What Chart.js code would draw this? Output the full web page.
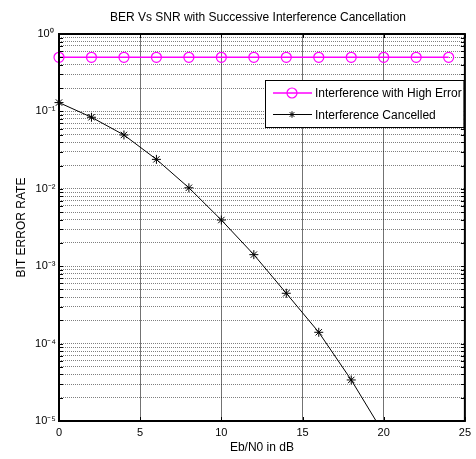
<!DOCTYPE html>
<html>
<head>
<meta charset="utf-8">
<title>BER Vs SNR</title>
<script src="https://cdn.jsdelivr.net/npm/chart.js@4.4.1/dist/chart.umd.min.js"></script>
<style>
    html, body { margin: 0; padding: 0; background: #fff; }
    #wrap { width: 476px; height: 459px; }
</style>
</head>
<body>
<div id="wrap"><canvas id="berChart" width="476" height="459"></canvas></div>
<script>
// ====== Data ======
const snrHigh = [0, 2, 4, 6, 8, 10, 12, 14, 16, 18, 20, 22, 24];
const berHigh = [0.5, 0.5, 0.5, 0.5, 0.5, 0.5, 0.5, 0.5, 0.5, 0.5, 0.5, 0.5, 0.5];

const snrSic = [0, 2, 4, 6, 8, 10, 12, 14, 16, 18, 20];
const berSic = [0.13, 0.084, 0.0496, 0.024, 0.0103, 0.00395, 0.00141, 0.000447, 0.00014, 0.0000339, 0.0000069];

const seriesNames = ['Interference with High Error', 'Interference Cancelled'];

const yDecades = [1e-5, 1e-4, 1e-3, 1e-2, 1e-1, 1];
const yDecadeLabels = ['10\u207B\u2075', '10\u207B\u2074', '10\u207B\u00B3', '10\u207B\u00B2', '10\u207B\u00B9', '10\u2070'];
const yMinorSteps = [2, 3, 4, 5, 6, 7, 8, 9];

const FONT = 'Liberation Sans, Arial, Helvetica, sans-serif';

function toPoints(xs, ys) {
    return xs.map((x, i) => ({ x: x, y: ys[i] }));
}

// log grid: every 1..9 x 10^k between the decades
function buildLogTicks() {
    const ticks = [];
    for (let i = 0; i < yDecades.length; i++) {
        ticks.push({ value: yDecades[i] });
        if (i < yDecades.length - 1) {
            yMinorSteps.forEach(m => ticks.push({ value: m * yDecades[i] }));
        }
    }
    return ticks;
}

function decadeLabel(value) {
    for (let i = 0; i < yDecades.length; i++) {
        if (Math.abs(Math.log10(value) - Math.log10(yDecades[i])) < 1e-6) return yDecadeLabels[i];
    }
    return '';
}

// ====== Plugins ======
// axes box with inward ticks, matlab style
const boxPlugin = {
    id: 'boxPlugin',
    afterDatasetsDraw(chart) {
        const { ctx, chartArea: a, scales } = chart;
        ctx.save();
        ctx.strokeStyle = '#000';
        ctx.lineWidth = 1;
        ctx.beginPath();
        scales.x.ticks.forEach(t => {
            const px = Math.round(scales.x.getPixelForValue(t.value)) + 0.5;
            ctx.moveTo(px, a.bottom); ctx.lineTo(px, a.bottom - 4);
            ctx.moveTo(px, a.top); ctx.lineTo(px, a.top + 4);
        });
        scales.y.ticks.forEach(t => {
            const py = Math.round(scales.y.getPixelForValue(t.value)) + 0.5;
            ctx.moveTo(a.left, py); ctx.lineTo(a.left + 4, py);
            ctx.moveTo(a.right, py); ctx.lineTo(a.right - 4, py);
        });
        ctx.stroke();
        ctx.lineWidth = 2;
        ctx.strokeRect(a.left, a.top, a.right - a.left, a.bottom - a.top);
        ctx.restore();
    }
};

// legend box in the upper right of the axes
const legendBoxPlugin = {
    id: 'legendBoxPlugin',
    afterDraw(chart) {
        const { ctx } = chart;
        const a = chart.chartArea;
        const bx = 265.5, by = 80.5, bw = a.right - 1 - 265.5, bh = 47;
        ctx.save();
        ctx.fillStyle = '#fff';
        ctx.fillRect(bx, by, bw, bh);
        ctx.strokeStyle = '#000';
        ctx.lineWidth = 1;
        ctx.strokeRect(bx, by, bw, bh);

        const rows = [by + 12.5, by + 34];
        chart.data.datasets.forEach((ds, i) => {
            const y = rows[i];
            ctx.strokeStyle = ds.borderColor;
            ctx.lineWidth = ds.borderWidth;
            ctx.beginPath();
            ctx.moveTo(273, y); ctx.lineTo(312, y);
            ctx.stroke();
            ctx.lineWidth = ds.pointBorderWidth;
            ctx.beginPath();
            if (ds.pointStyle === 'circle') {
                ctx.arc(292, y, ds.pointRadius, 0, Math.PI * 2);
            } else {
                const r = 3.2;
                ctx.moveTo(292 - r, y); ctx.lineTo(292 + r, y);
                ctx.moveTo(292, y - r); ctx.lineTo(292, y + r);
                const d = r * 0.72;
                ctx.moveTo(292 - d, y - d); ctx.lineTo(292 + d, y + d);
                ctx.moveTo(292 - d, y + d); ctx.lineTo(292 + d, y - d);
            }
            ctx.stroke();
            ctx.fillStyle = '#000';
            ctx.font = '12px ' + FONT;
            ctx.textBaseline = 'middle';
            ctx.textAlign = 'left';
            ctx.fillText(ds.label, 315, y + 1);
        });
        ctx.restore();
    }
};

// center the title over the axes, not the canvas
const titleCenterPlugin = {
    id: 'titleCenterPlugin',
    afterLayout(chart) {
        if (chart.titleBlock) {
            chart.titleBlock.left = chart.chartArea.left - 4;
            chart.titleBlock.right = chart.chartArea.right - 4;
        }
    }
};

// ====== Chart ======
const ctx = document.getElementById('berChart').getContext('2d');
const berChart = new Chart(ctx, {
    type: 'line',
    data: {
        datasets: [
            {
                label: seriesNames[0],
                data: toPoints(snrHigh, berHigh),
                borderColor: '#ff00ff',
                backgroundColor: 'rgba(0,0,0,0)',
                borderWidth: 1.5,
                pointStyle: 'circle',
                pointRadius: 5,
                pointBorderWidth: 1.2,
                pointBackgroundColor: 'rgba(0,0,0,0)',
                pointBorderColor: '#ff00ff',
                tension: 0,
                clip: false
            },
            {
                label: seriesNames[1],
                data: toPoints(snrSic, berSic),
                borderColor: '#000000',
                backgroundColor: 'rgba(0,0,0,0)',
                borderWidth: 1,
                pointStyle: 'star',
                pointRadius: 4.5,
                pointBorderWidth: 1,
                pointBackgroundColor: 'rgba(0,0,0,0)',
                pointBorderColor: '#000000',
                tension: 0,
                clip: { left: 8, top: 8, right: 8, bottom: 0 }
            }
        ]
    },
    options: {
        responsive: false,
        animation: false,
        devicePixelRatio: 1,
        layout: { padding: { left: 0, right: 7, top: 0, bottom: 0 } },
        plugins: {
            legend: { display: false },
            tooltip: { enabled: false },
            title: {
                display: true,
                text: 'BER Vs SNR with Successive Interference Cancellation',
                color: '#000',
                font: { family: FONT, size: 12, weight: 'normal' },
                padding: { top: 10, bottom: 9.6 }
            }
        },
        scales: {
            x: {
                type: 'linear',
                min: 0,
                max: 25,
                ticks: {
                    stepSize: 5,
                    color: '#000',
                    padding: 5,
                    font: { family: FONT, size: 11 }
                },
                grid: {
                    color: 'rgba(0,0,0,0.55)',
                    lineWidth: 1,
                    drawTicks: false
                },
                border: { display: false },
                title: {
                    display: true,
                    text: 'Eb/N0 in dB',
                    color: '#000',
                    font: { family: FONT, size: 12 },
                    padding: { top: 0, bottom: 4 }
                },
                afterFit(scale) { scale.height = 38; }
            },
            y: {
                type: 'logarithmic',
                min: 1e-5,
                max: 1,
                afterBuildTicks(scale) { scale.ticks = buildLogTicks(); },
                ticks: {
                    autoSkip: false,
                    color: '#000',
                    padding: 3,
                    crossAlign: 'center',
                    font: { family: FONT, size: 11 },
                    callback: (value) => decadeLabel(value)
                },
                grid: {
                    color: 'rgba(0,0,0,0.5)',
                    lineWidth: 1,
                    drawTicks: false
                },
                border: { display: false, dash: [1, 1] },
                title: {
                    display: true,
                    text: 'BIT ERROR RATE',
                    color: '#000',
                    font: { family: FONT, size: 12 },
                    padding: { top: 14, bottom: 14 }
                },
                afterFit(scale) { scale.width = 59; }
            }
        }
    },
    plugins: [titleCenterPlugin, boxPlugin, legendBoxPlugin]
});
</script>
</body>
</html>
